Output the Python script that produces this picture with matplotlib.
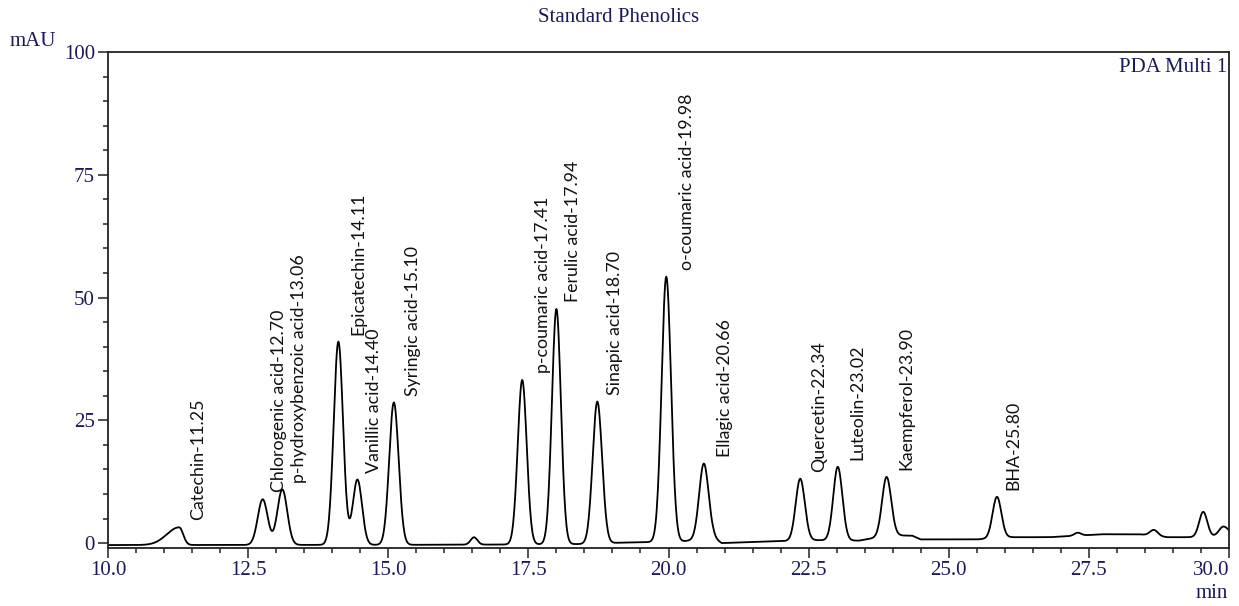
import numpy as np
import matplotlib.pyplot as plt

# peaks: retention time (min), height above baseline (mAU),
# left / right gaussian width (min)
peak_rt = [11.27, 12.76, 13.11, 14.11, 14.45, 15.10, 16.53, 17.39, 18.00, 18.73,
           19.96, 20.63, 22.35, 23.02, 23.89, 25.86, 27.30, 28.66, 29.54, 29.90]
peak_height = [3.6, 9.3, 11.3, 41.4, 13.3, 29.0, 1.5, 33.5, 47.9, 28.9,
               54.0, 15.4, 12.6, 15.0, 12.0, 8.4, 0.6, 1.2, 5.1, 2.0]
peak_sig_left = [0.22, 0.088, 0.088, 0.083, 0.082, 0.083, 0.06, 0.08, 0.08, 0.083,
                 0.083, 0.083, 0.08, 0.08, 0.08, 0.078, 0.06, 0.07, 0.072, 0.08]
peak_sig_right = [0.07, 0.088, 0.088, 0.083, 0.082, 0.085, 0.06, 0.08, 0.08, 0.085,
                  0.085, 0.085, 0.082, 0.082, 0.082, 0.078, 0.06, 0.07, 0.072, 0.10]

# baseline drift
base_t = [10.0, 15.5, 17.0, 18.4, 19.2, 20.2, 20.8, 20.95, 21.7, 22.6,
          23.4, 23.95, 24.35, 24.5, 25.5, 26.1, 26.8, 27.75, 28.4, 28.9, 29.3, 30.0]
base_v = [-0.4, -0.35, -0.3, -0.2, 0.1, 0.3, 1.0, 0.0, 0.3, 0.6,
          0.5, 1.6, 1.5, 0.75, 0.75, 1.2, 1.2, 1.8, 1.8, 1.2, 1.2, 1.4]

# peak annotations
label_names = ['Catechin', 'Chlorogenic acid', 'p-hydroxybenzoic acid', 'Epicatechin',
               'Vanillic acid', 'Syringic acid', 'p-coumaric acid', 'Ferulic acid',
               'Sinapic acid', 'o-coumaric acid', 'Ellagic acid', 'Quercetin',
               'Luteolin', 'Kaempferol', 'BHA']
label_rt = [11.25, 12.70, 13.06, 14.11, 14.40, 15.10, 17.41, 17.94, 18.70, 19.98,
            20.66, 22.34, 23.02, 23.90, 25.80]

t = np.arange(10.0, 30.0001, 0.01)
signal = np.interp(t, base_t, base_v)
for rt, h, sl, sr in zip(peak_rt, peak_height, peak_sig_left, peak_sig_right):
    sig = np.where(t < rt, sl, sr)
    signal += h * np.exp(-0.5 * ((t - rt) / sig) ** 2)

serif = 'Liberation Serif'
navy = '#1a1a5a'

fig = plt.figure(figsize=(12.39, 6.06), dpi=100)
ax = fig.add_axes([108 / 1239, 1 - 548 / 606, 1121 / 1239, 496 / 606])
ax.plot(t, signal, color='black', linewidth=1.3)

ax.set_xlim(10, 30)
ax.set_ylim(-1, 100)
ax.set_xticks(np.arange(10, 30.1, 2.5))
ax.set_xticks(np.arange(10, 30.1, 0.5), minor=True)
ax.set_yticks(np.arange(0, 101, 25))
ax.set_yticks(np.arange(0, 101, 5), minor=True)
ax.set_xticklabels([f'{v:.1f}' for v in np.arange(10, 30.1, 2.5)])
ax.tick_params(which='major', direction='out', length=7.5, width=1.1, color='#222222',
               labelsize=15, labelcolor=navy, pad=2)
ax.tick_params(which='minor', direction='out', length=3.6, width=1.1, color='#222222')
for lab in ax.get_xticklabels() + ax.get_yticklabels():
    lab.set_fontfamily(serif)
ax.get_xticklabels()[-1].set_horizontalalignment('right')
for sp in ax.spines.values():
    sp.set_linewidth(1.3)
    sp.set_color('#222222')

for name, rt in zip(label_names, label_rt):
    near = np.abs(t - rt) < 0.12
    top = signal[near].max()
    ax.text(rt + 0.35, top + 1.4, f'{name}-{rt:.2f}', rotation=90,
            ha='center', va='bottom', fontsize=12.8, family='Lato', color='#111111')

ax.text(0.998, 0.988, 'PDA Multi 1', transform=ax.transAxes, ha='right', va='top',
        fontsize=15, family=serif, color=navy)
fig.text(619 / 1239, 1 - 18 / 606, 'Standard Phenolics', ha='center', va='center',
         fontsize=15, family=serif, color=navy)
fig.text(10 / 1239, 1 - 42 / 606, 'mAU', ha='left', va='center',
         fontsize=15, family=serif, color=navy)
fig.text(1228 / 1239, 1 - 594 / 606, 'min', ha='right', va='center',
         fontsize=15, family=serif, color=navy)

fig.savefig('out.png', dpi=100)
